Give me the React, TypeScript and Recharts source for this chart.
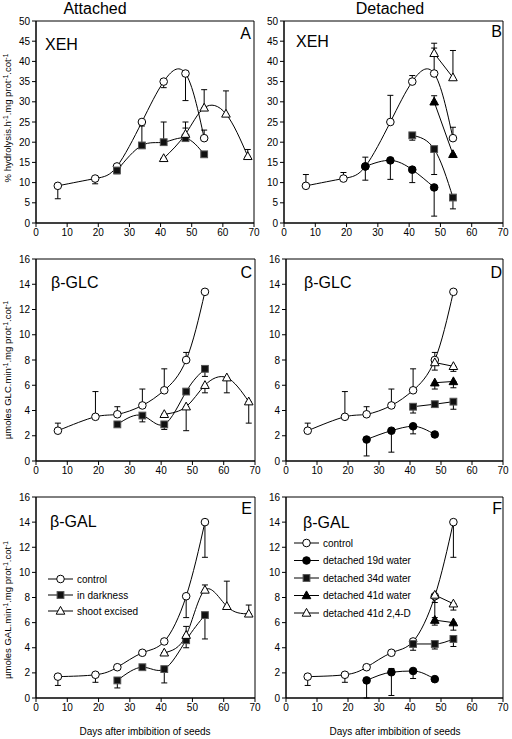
import React from "react";
import { ComposedChart, Line, XAxis, YAxis, ErrorBar, ReferenceArea } from "recharts";

// sampling days
const days = [7, 19, 26, 34, 41, 48, 54];
const darkDays = [26, 34, 41, 48, 54];
const excisedDays = [41, 48, 54, 61, 68];
const det19Days = [26, 34, 41, 48];
const det34Days = [41, 48, 54];
const det41Days = [48, 54];

const xTicks = [0, 10, 20, 30, 40, 50, 60, 70];
const xehTicks = [0, 5, 10, 15, 20, 25, 30, 35, 40, 45, 50];
const enzTicks = [0, 2, 4, 6, 8, 10, 12, 14, 16];

// XEH (% hydrolysis), errors as [below, above]
const xehControl = [9.2, 11, 14, 25, 35, 37, 21];
const xehControlErrA = [[3.2, 0], [1.3, 0], [0, 0], [0, 0], [1.5, 0], [6.7, 0], [0, 2]];
const xehControlErrB = [[0, 2.8], [0, 1.5], [0, 0], [0, 6.6], [0, 1.5], [0, 6.3], [0, 2.7]];
const xehDark = [13, 19.2, 20, 21, 17];
const xehDarkErr = [[0.8, 0], [0, 4.8], [0, 5], [0, 2.5], [0, 0]];
const xehExcised = [16, 22, 28.5, 27, 16.5];
const xehExcisedErr = [[0, 0], [0, 3], [0, 4.5], [0, 5.7], [0, 1.7]];
const xehDet19 = [14, 15.5, 13.2, 8.8];
const xehDet19Err = [[3.4, 2.3], [4.7, 0], [3.2, 0], [7.1, 0]];
const xehDet34 = [21.7, 18.3, 6.3];
const xehDet34Err = [[1.2, 0], [6.3, 0], [2.8, 0]];
const xehDet41 = [30, 17];
const xehDet41Err = [[0, 1.5], [0, 0]];
const xehDet24D = [42, 36];
const xehDet24DErr = [[0, 2.5], [0, 6.7]];

// beta-GLC
const glcControl = [2.4, 3.5, 3.7, 4.4, 5.6, 8.0, 13.4];
const glcControlErr = [[0, 0.6], [0, 2.0], [0, 0.6], [0, 1.3], [0, 1.7], [0, 0.6], [0, 0]];
const glcDark = [2.9, 3.6, 2.9, 5.5, 7.3];
const glcDarkErr = [[0, 0], [0.5, 0], [0.4, 0], [0, 0], [0.6, 0]];
const glcExcised = [3.7, 4.3, 6.0, 6.6, 4.7];
const glcExcisedErr = [[0, 0], [1.9, 0], [0.6, 0], [1.2, 0], [1.7, 0]];
const glcDet19 = [1.7, 2.4, 2.75, 2.1];
const glcDet19Err = [[1.3, 0], [1.7, 0], [0.6, 0], [0, 0]];
const glcDet34 = [4.3, 4.5, 4.7];
const glcDet34Err = [[0.5, 0], [0.2, 0], [0.6, 0]];
const glcDet41 = [6.2, 6.3];
const glcDet41Err = [[0.5, 0], [0.5, 0]];
const glcDet24D = [7.8, 7.5];
const glcDet24DErr = [[0.6, 0], [0.4, 0]];

// beta-GAL
const galControl = [1.7, 1.85, 2.45, 3.6, 4.5, 8.1, 14];
const galControlErr = [[0.7, 0], [0.6, 0], [0, 0], [0, 0], [0, 0], [1.7, 0], [2.8, 0]];
const galDark = [1.4, 2.45, 2.3, 4.6, 6.6];
const galDarkErr = [[0.6, 0], [0, 0], [1.1, 0], [0.6, 0], [1.9, 0]];
const galExcised = [3.6, 5.0, 8.6, 7.3, 6.7];
const galExcisedErr = [[0, 0], [0, 0.7], [0, 0.4], [0, 2.0], [0, 0.7]];
const galDet19 = [1.4, 2.05, 2.15, 1.5];
const galDet19Err = [[1.4, 0], [1.85, 0.3], [0.6, 0], [0, 0]];
const galDet34 = [4.3, 4.3, 4.7];
const galDet34Err = [[0.5, 0], [0.4, 0], [0.6, 0]];
const galDet41 = [6.2, 6.0];
const galDet41Err = [[0.4, 0], [0.6, 0]];
const galDet24D = [8.2, 7.5];
const galDet24DErr = [[0.6, 0], [0.5, 0]];

const attachedLegend = ["control", "in darkness", "shoot excised"];
const detachedLegend = [
  "control",
  "detached 19d water",
  "detached 34d water",
  "detached 41d water",
  "detached 41d 2,4-D",
];

const FONT = "'Liberation Sans', Arial, sans-serif";

type Kind = "openCircle" | "circle" | "square" | "triangle" | "openTriangle";
type Curve = "natural" | "monotone" | "linear";
type Pt = { x: number; y: number; err: number[] };
type Series = { data: Pt[]; kind: Kind; curve: Curve };

const pts = (xs: number[], ys: number[], errs: number[][]): Pt[] =>
  xs.map((x, i) => ({ x, y: ys[i], err: errs[i] }));

function Marker({ kind, cx, cy }: { kind: Kind; cx: number; cy: number }) {
  if (kind === "openCircle") return <circle cx={cx} cy={cy} r={3.8} fill="#fff" stroke="#000" />;
  if (kind === "circle") return <circle cx={cx} cy={cy} r={3.8} fill="#000" stroke="#000" />;
  if (kind === "square")
    return <rect x={cx - 3.4} y={cy - 3.4} width={6.8} height={6.8} fill="#111" stroke="#555" />;
  const tri = `${cx},${cy - 4.6} ${cx - 4.3},${cy + 3.2} ${cx + 4.3},${cy + 3.2}`;
  return <polygon points={tri} fill={kind === "triangle" ? "#000" : "#fff"} stroke="#000" />;
}

function Panel({
  plot,
  yMax,
  yTicks,
  series,
}: {
  plot: { l: number; r: number; t: number; b: number };
  yMax: number;
  yTicks: number[];
  series: Series[];
}) {
  const w = plot.r - plot.l + 42;
  const h = plot.b - plot.t + 40;
  const tick = { fontSize: 10, fill: "#000", fontFamily: FONT };
  return (
    <div style={{ position: "absolute", left: plot.l - 36, top: plot.t - 20 }}>
      <ComposedChart
        width={w}
        height={h}
        margin={{ top: 20, right: 6, bottom: 4, left: 0 }}
        style={{ overflow: "visible" }}
      >
        <XAxis
          type="number"
          dataKey="x"
          domain={[0, 70]}
          ticks={xTicks}
          tick={tick}
          tickSize={4}
          height={16}
          stroke="#000"
          interval={0}
        />
        <YAxis
          type="number"
          domain={[0, yMax]}
          ticks={yTicks}
          tick={tick}
          tickSize={4}
          width={36}
          stroke="#000"
          interval={0}
        />
        <ReferenceArea x1={0} x2={70} y1={0} y2={yMax} fill="none" stroke="#000" strokeOpacity={1} />
        {series.map((s, i) => (
          <Line
            key={i}
            data={s.data}
            dataKey="y"
            type={s.curve}
            stroke="#000"
            strokeWidth={1}
            isAnimationActive={false}
            activeDot={false}
            dot={(p: any) => <Marker key={`m${i}-${p.index}`} kind={s.kind} cx={p.cx} cy={p.cy} />}
          >
            <ErrorBar dataKey="err" direction="y" width={3} stroke="#000" strokeWidth={1} isAnimationActive={false} />
          </Line>
        ))}
      </ComposedChart>
    </div>
  );
}

const attachedKinds: Kind[] = ["openCircle", "square", "openTriangle"];
const detachedKinds: Kind[] = ["openCircle", "circle", "square", "triangle", "openTriangle"];

function YLabel({ x, y, name }: { x: number; y: number; name: string }) {
  const sup = (s: string) => (
    <tspan baselineShift="super" fontSize={6.5}>
      {s}
    </tspan>
  );
  return (
    <text transform={`translate(${x},${y}) rotate(-90)`} textAnchor="middle" fontSize={9.5}>
      {name}
      {sup("-1")}
      <tspan>.mg prot</tspan>
      {sup("-1")}
      <tspan>.cot</tspan>
      {sup("-1")}
    </text>
  );
}

function LegendRows({
  x,
  y,
  step,
  labels,
  kinds,
}: {
  x: number;
  y: number;
  step: number;
  labels: string[];
  kinds: Kind[];
}) {
  return (
    <g>
      {labels.map((lab, i) => {
        const cy = y + i * step;
        return (
          <g key={lab}>
            <line x1={x} x2={x + 25} y1={cy} y2={cy} stroke="#000" />
            <Marker kind={kinds[i]} cx={x + 12.5} cy={cy} />
            <text x={x + 29} y={cy + 3.6} fontSize={10}>
              {lab}
            </text>
          </g>
        );
      })}
    </g>
  );
}

export default function App() {
  const A = { l: 36, r: 254, t: 21, b: 223 };
  const B = { l: 284, r: 503, t: 21, b: 223 };
  const C = { l: 36, r: 255, t: 259, b: 461 };
  const D = { l: 286, r: 503, t: 259, b: 461 };
  const E = { l: 36, r: 255, t: 497, b: 698 };
  const F = { l: 286, r: 503, t: 497, b: 698 };

  return (
    <div
      style={{
        position: "absolute",
        left: 0,
        top: 0,
        width: 512,
        height: 739,
        background: "#fff",
        fontFamily: FONT,
      }}
    >
      <Panel
        plot={A}
        yMax={50}
        yTicks={xehTicks}
        series={[
          { data: pts(days, xehControl, xehControlErrA), kind: "openCircle", curve: "natural" },
          { data: pts(darkDays, xehDark, xehDarkErr), kind: "square", curve: "natural" },
          { data: pts(excisedDays, xehExcised, xehExcisedErr), kind: "openTriangle", curve: "natural" },
        ]}
      />
      <Panel
        plot={B}
        yMax={50}
        yTicks={xehTicks}
        series={[
          { data: pts(days, xehControl, xehControlErrB), kind: "openCircle", curve: "natural" },
          { data: pts(det19Days, xehDet19, xehDet19Err), kind: "circle", curve: "natural" },
          { data: pts(det34Days, xehDet34, xehDet34Err), kind: "square", curve: "natural" },
          { data: pts(det41Days, xehDet41, xehDet41Err), kind: "triangle", curve: "linear" },
          { data: pts(det41Days, xehDet24D, xehDet24DErr), kind: "openTriangle", curve: "linear" },
        ]}
      />
      <Panel
        plot={C}
        yMax={16}
        yTicks={enzTicks}
        series={[
          { data: pts(days, glcControl, glcControlErr), kind: "openCircle", curve: "natural" },
          { data: pts(darkDays, glcDark, glcDarkErr), kind: "square", curve: "natural" },
          { data: pts(excisedDays, glcExcised, glcExcisedErr), kind: "openTriangle", curve: "natural" },
        ]}
      />
      <Panel
        plot={D}
        yMax={16}
        yTicks={enzTicks}
        series={[
          { data: pts(days, glcControl, glcControlErr), kind: "openCircle", curve: "natural" },
          { data: pts(det19Days, glcDet19, glcDet19Err), kind: "circle", curve: "monotone" },
          { data: pts(det34Days, glcDet34, glcDet34Err), kind: "square", curve: "monotone" },
          { data: pts(det41Days, glcDet41, glcDet41Err), kind: "triangle", curve: "linear" },
          { data: pts(det41Days, glcDet24D, glcDet24DErr), kind: "openTriangle", curve: "linear" },
        ]}
      />
      <Panel
        plot={E}
        yMax={16}
        yTicks={enzTicks}
        series={[
          { data: pts(days, galControl, galControlErr), kind: "openCircle", curve: "natural" },
          { data: pts(darkDays, galDark, galDarkErr), kind: "square", curve: "natural" },
          { data: pts(excisedDays, galExcised, galExcisedErr), kind: "openTriangle", curve: "natural" },
        ]}
      />
      <Panel
        plot={F}
        yMax={16}
        yTicks={enzTicks}
        series={[
          { data: pts(days, galControl, galControlErr), kind: "openCircle", curve: "natural" },
          { data: pts(det19Days, galDet19, galDet19Err), kind: "circle", curve: "monotone" },
          { data: pts(det34Days, galDet34, galDet34Err), kind: "square", curve: "monotone" },
          { data: pts(det41Days, galDet41, galDet41Err), kind: "triangle", curve: "linear" },
          { data: pts(det41Days, galDet24D, galDet24DErr), kind: "openTriangle", curve: "linear" },
        ]}
      />

      <svg
        width={512}
        height={739}
        style={{ position: "absolute", left: 0, top: 0, pointerEvents: "none", fontFamily: FONT }}
      >
        <text x={95} y={14} fontSize={16} textAnchor="middle">Attached</text>
        <text x={390} y={14} fontSize={16} textAnchor="middle">Detached</text>

        <text x={45} y={50} fontSize={16}>XEH</text>
        <text x={251} y={39} fontSize={16} textAnchor="end">A</text>
        <text x={296} y={47} fontSize={16}>XEH</text>
        <text x={502} y={37} fontSize={16} textAnchor="end">B</text>

        <text x={51} y={288} fontSize={16}>β-GLC</text>
        <text x={252} y={278} fontSize={16} textAnchor="end">C</text>
        <text x={304} y={288} fontSize={16}>β-GLC</text>
        <text x={502} y={278} fontSize={16} textAnchor="end">D</text>

        <text x={50} y={527} fontSize={16}>β-GAL</text>
        <text x={252} y={514} fontSize={16} textAnchor="end">E</text>
        <text x={303} y={528} fontSize={16}>β-GAL</text>
        <text x={502} y={514} fontSize={16} textAnchor="end">F</text>

        <text x={145} y={735} fontSize={10} textAnchor="middle">Days after imbibition of seeds</text>
        <text x={395} y={735} fontSize={10} textAnchor="middle">Days after imbibition of seeds</text>

        <YLabel x={11} y={118} name="% hydrolysis.h" />
        <YLabel x={11} y={370} name="µmoles GLC.min" />
        <YLabel x={11} y={610} name="µmoles GAL.min" />

        <LegendRows x={48} y={579} step={16} labels={attachedLegend} kinds={attachedKinds} />
        <LegendRows x={294} y={543} step={17.5} labels={detachedLegend} kinds={detachedKinds} />
      </svg>
    </div>
  );
}
